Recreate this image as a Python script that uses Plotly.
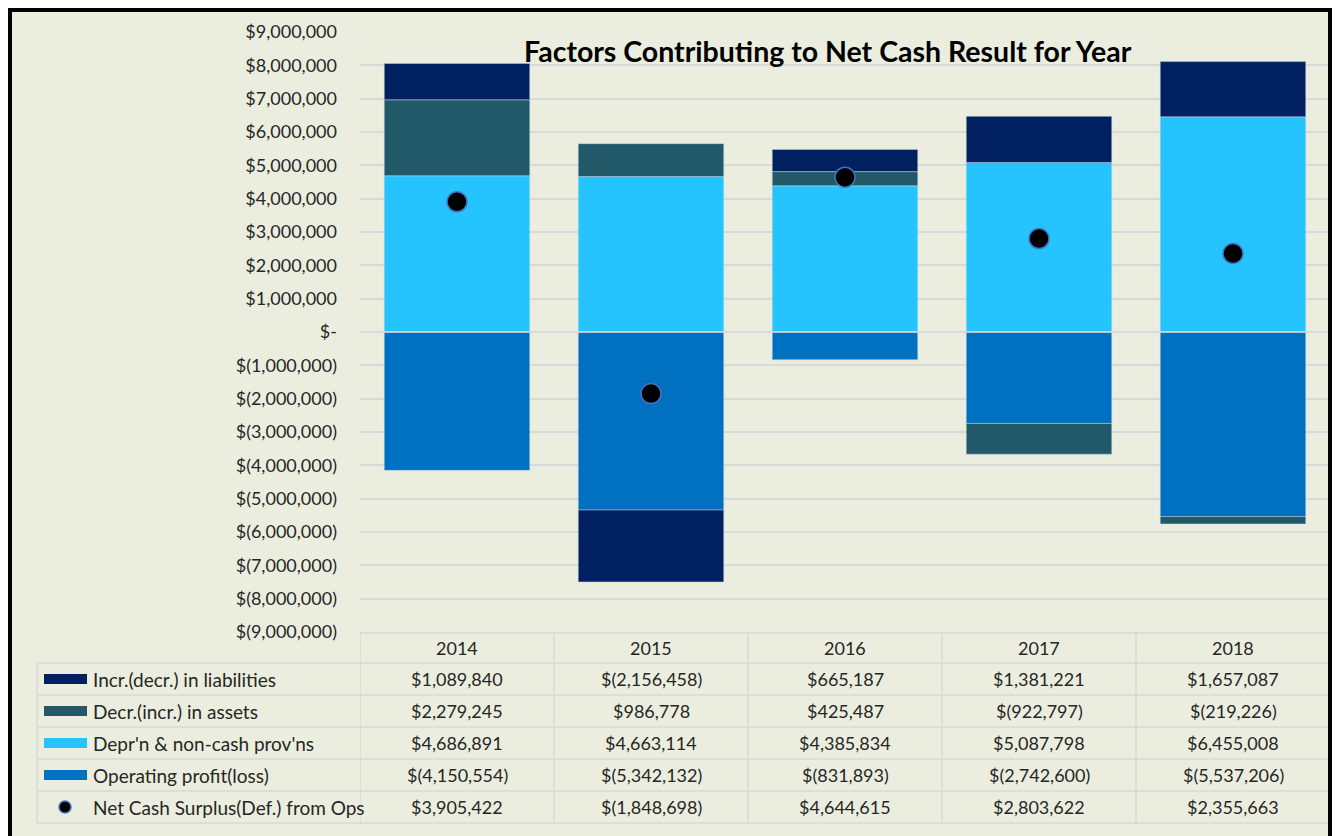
import plotly.graph_objects as go

# ---------------- data ----------------
years = ["2014", "2015", "2016", "2017", "2018"]
liabilities = [1089840, -2156458, 665187, 1381221, 1657087]
assets = [2279245, 986778, 425487, -922797, -219226]
deprn = [4686891, 4663114, 4385834, 5087798, 6455008]
op_profit = [-4150554, -5342132, -831893, -2742600, -5537206]
net_cash = [3905422, -1848698, 4644615, 2803622, 2355663]

series_names = ["Incr.(decr.) in liabilities", "Decr.(incr.) in assets",
                "Depr'n & non-cash prov'ns", "Operating profit(loss)",
                "Net Cash Surplus(Def.) from Ops"]
tick_values = list(range(-9000000, 9000001, 1000000))
title_text = "Factors Contributing to Net Cash Result for Year"

# ---------------- styling ----------------
W, H = 1335, 836
FONT = "Lato"
TXT = "#262626"
BG = "#EBEEDE"
GRID = "#D9D9D9"
C_LIAB = "#002060"
C_ASSET = "#215968"
C_DEPR = "#25C4FF"
C_OP = "#0070C0"
NUM_SIZE = 18
LBL_SIZE = 19


def fx(p):
    return p / W


def fy(p):
    return 1 - p / H


def money(v):
    if v == 0:
        return "$-"
    if v < 0:
        return "$({:,})".format(-v)
    return "${:,}".format(v)


PLOT_L, PLOT_R, PLOT_T, PLOT_B = 360, 1330, 32, 632

fig = go.Figure()
bar_line = dict(color="rgba(190,215,235,0.6)", width=0.8)
# stacking order (nearest zero first)
fig.add_trace(go.Bar(x=years, y=op_profit, name=series_names[3], marker=dict(color=C_OP, line=bar_line)))
fig.add_trace(go.Bar(x=years, y=deprn, name=series_names[2], marker=dict(color=C_DEPR, line=bar_line)))
fig.add_trace(go.Bar(x=years, y=assets, name=series_names[1], marker=dict(color=C_ASSET, line=bar_line)))
fig.add_trace(go.Bar(x=years, y=liabilities, name=series_names[0], marker=dict(color=C_LIAB, line=bar_line)))
fig.add_trace(go.Scatter(x=years, y=net_cash, name=series_names[4], mode="markers",
                         marker=dict(color="black", size=20, line=dict(color="#4472C4", width=1.5))))

shapes = []
annotations = []

# background panel and frame (kept inside the paper)
shapes.append(dict(type="rect", xref="paper", yref="paper", x0=fx(10), x1=fx(1330), y0=0, y1=fy(10),
                   fillcolor=BG, line=dict(width=0), layer="below"))
for (x0, y0, x1, y1) in [(8, 8, 1332, 12), (8, 8, 12, 836), (1328, 8, 1332, 836)]:
    shapes.append(dict(type="rect", xref="paper", yref="paper", x0=fx(x0), x1=fx(x1), y0=fy(y1), y1=fy(y0),
                       fillcolor="black", line=dict(width=0), layer="above"))

# zero line drawn over bars
shapes.append(dict(type="line", xref="paper", yref="y", x0=fx(PLOT_L), x1=fx(1327), y0=0, y1=0,
                   line=dict(color=GRID, width=1.5), layer="above"))

# ---------------- data table ----------------
ROW_TOP = 663
ROW_H = 32
HEAD_TOP = 633
TL = 37
line_style = dict(color=GRID, width=1.5)
shapes.append(dict(type="line", xref="paper", yref="paper", x0=fx(PLOT_L), x1=fx(1328),
                   y0=fy(HEAD_TOP), y1=fy(HEAD_TOP), line=line_style))
for i in range(6):
    yy = ROW_TOP + i * ROW_H
    shapes.append(dict(type="line", xref="paper", yref="paper", x0=fx(TL), x1=fx(1328),
                       y0=fy(yy), y1=fy(yy), line=line_style))
shapes.append(dict(type="line", xref="paper", yref="paper", x0=fx(TL), x1=fx(TL),
                   y0=fy(ROW_TOP), y1=fy(ROW_TOP + 5 * ROW_H), line=line_style))
for k in range(len(years)):
    shapes.append(dict(type="line", xref="x", yref="paper", x0=k - 0.5, x1=k - 0.5,
                       y0=fy(HEAD_TOP), y1=fy(ROW_TOP + 5 * ROW_H), line=line_style))

for k, yr in enumerate(years):
    annotations.append(dict(x=k, xref="x", y=fy(HEAD_TOP + 15), yref="paper", text=yr,
                            showarrow=False, font=dict(family=FONT, size=NUM_SIZE, color=TXT),
                            xanchor="center", yanchor="middle"))

rows = [liabilities, assets, deprn, op_profit, net_cash]
swatch_colors = [C_LIAB, C_ASSET, C_DEPR, C_OP]
for r, vals in enumerate(rows):
    yc = ROW_TOP + r * ROW_H + 16
    for k, v in enumerate(vals):
        annotations.append(dict(x=k, xref="x", y=fy(yc), yref="paper", text=money(v),
                                showarrow=False, font=dict(family=FONT, size=NUM_SIZE, color=TXT),
                                xanchor="center", yanchor="middle"))
    annotations.append(dict(x=fx(91), xref="paper", y=fy(yc), yref="paper", text=series_names[r],
                            showarrow=False, font=dict(family=FONT, size=LBL_SIZE, color=TXT),
                            xanchor="left", yanchor="middle"))
    if r < 4:
        shapes.append(dict(type="rect", xref="paper", yref="paper", x0=fx(44), x1=fx(87),
                           y0=fy(yc + 5), y1=fy(yc - 5), fillcolor=swatch_colors[r], line=dict(width=0)))
    else:
        shapes.append(dict(type="circle", xref="paper", yref="paper", x0=fx(59), x1=fx(71),
                           y0=fy(yc + 6), y1=fy(yc - 6), fillcolor="black",
                           line=dict(color="#4472C4", width=1.5)))

annotations.append(dict(x=fx(828), xref="paper", y=fy(51), yref="paper", text="<b>" + title_text + "</b>",
                        showarrow=False, font=dict(family=FONT, size=28.5, color="black"),
                        xanchor="center", yanchor="middle"))

fig.update_layout(
    width=W, height=H, autosize=False,
    margin=dict(l=0, r=0, t=0, b=0, pad=0, autoexpand=False),
    paper_bgcolor="white", plot_bgcolor="rgba(0,0,0,0)",
    barmode="relative", bargap=0.25,
    showlegend=False,
    shapes=shapes, annotations=annotations,
    xaxis=dict(domain=[fx(PLOT_L), fx(PLOT_R)], type="category", range=[-0.5, 4.5], automargin=False,
               showticklabels=False, showgrid=False, zeroline=False, showline=False),
    yaxis=dict(domain=[fy(PLOT_B), fy(PLOT_T)], range=[-9000000, 9000000], automargin=False,
               tickvals=tick_values, ticktext=[money(v) for v in tick_values],
               showgrid=True, gridcolor=GRID, gridwidth=1.5, zeroline=False, showline=False,
               ticks="", ticklabelstandoff=22,
               tickfont=dict(family=FONT, size=NUM_SIZE, color=TXT)),
    font=dict(family=FONT, color=TXT),
)

post = ("document.body.style.margin='0';"
        "var gd=document.getElementById('{plot_id}');"
        "gd.style.position='absolute';gd.style.left='0px';gd.style.top='0px';")
fig.write_html("out.html", post_script=post, config={"displayModeBar": False})
